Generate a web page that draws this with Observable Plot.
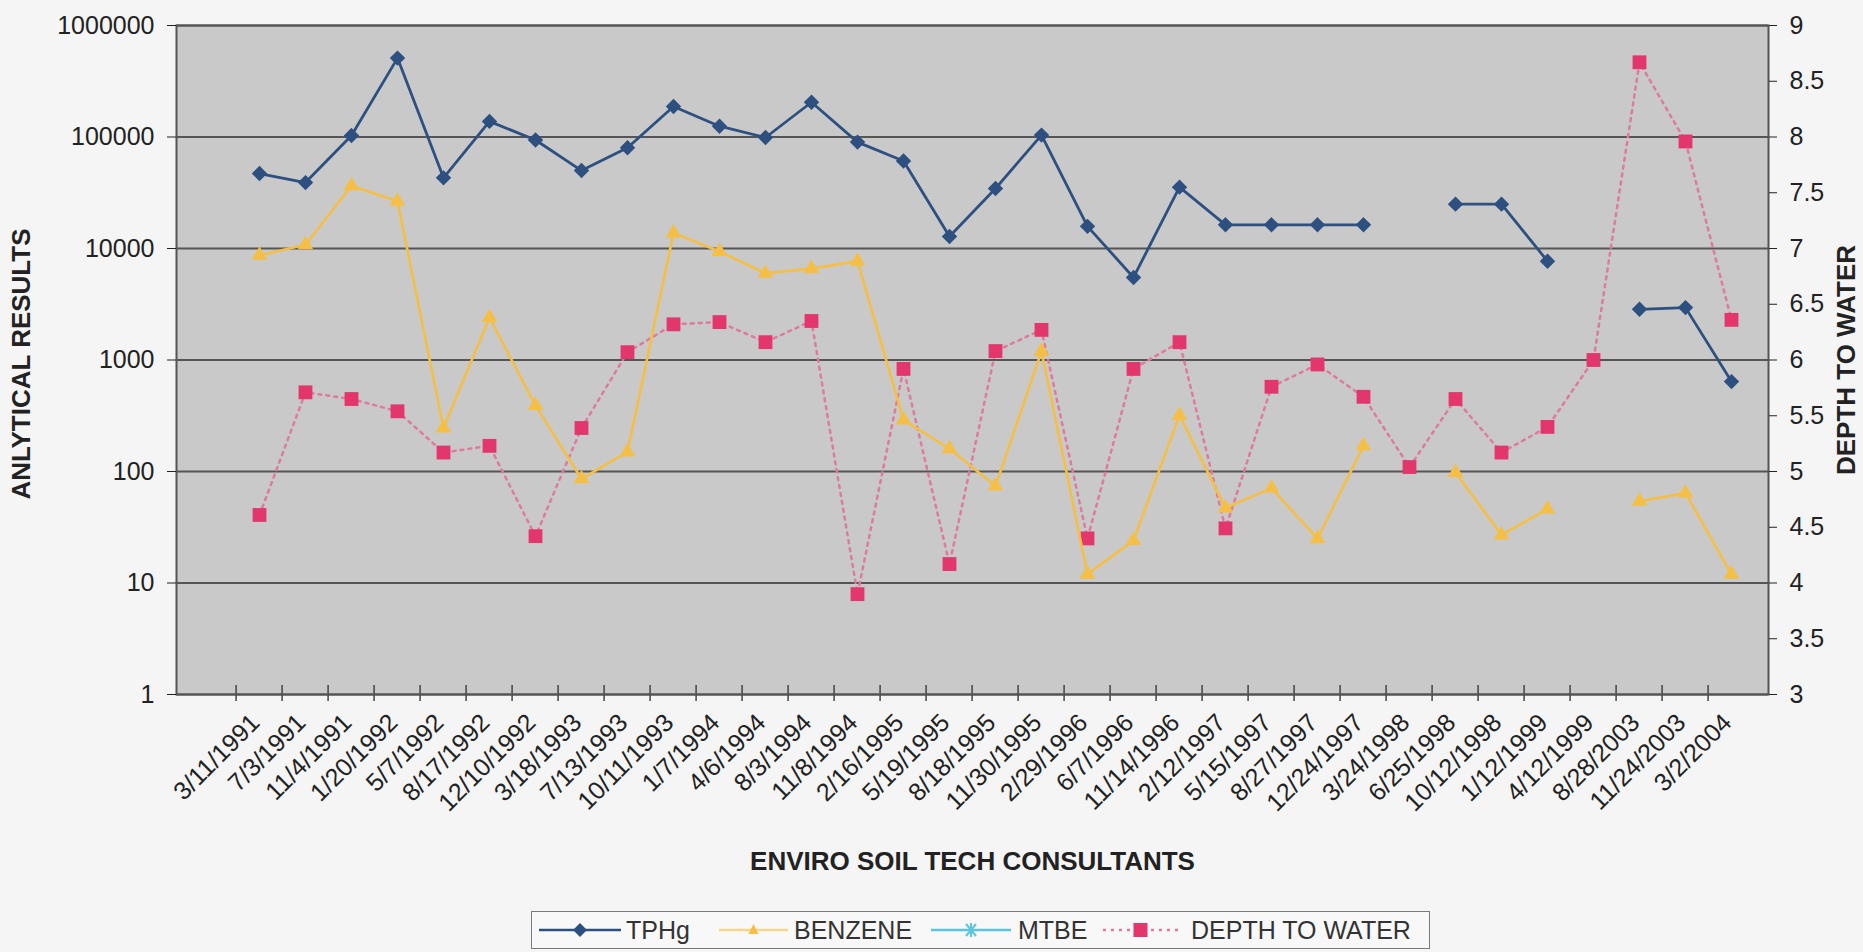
<!DOCTYPE html>
<html><head><meta charset="utf-8">
<script src="https://cdn.jsdelivr.net/npm/d3@7"></script>
<script src="https://cdn.jsdelivr.net/npm/@observablehq/plot@0.6"></script>
<style>
html,body{margin:0;padding:0;background:#f5f5f5;}
body{width:1863px;height:952px;position:relative;overflow:hidden;font-family:"Liberation Sans",Arial,sans-serif;}
#chart{position:absolute;left:0;top:0;}
#legend{position:absolute;left:531px;top:911px;width:897px;height:36px;border:1.5px solid #7a7a7a;background:#f8f8f8;}
.sw{position:absolute;top:0;}
.lt{position:absolute;top:0;height:36px;line-height:36px;font-size:25px;color:#333;white-space:nowrap;}
</style></head><body>
<div id="chart"></div>
<div id="legend"></div>
<script>
// ---- data ----
const dates = ["3/11/1991","7/3/1991","11/4/1991","1/20/1992","5/7/1992","8/17/1992","12/10/1992","3/18/1993","7/13/1993","10/11/1993","1/7/1994","4/6/1994","8/3/1994","11/8/1994","2/16/1995","5/19/1995","8/18/1995","11/30/1995","2/29/1996","6/7/1996","11/14/1996","2/12/1997","5/15/1997","8/27/1997","12/24/1997","3/24/1998","6/25/1998","10/12/1998","1/12/1999","4/12/1999","8/28/2003","11/24/2003","3/2/2004"];
const tphg = [47000,39000,103000,510000,43000,138000,94000,50000,80000,188000,125000,99000,205000,90000,61000,12800,34500,104000,15800,5500,35500,16300,16300,16300,16300,null,25000,25000,7700,null,2850,2950,640];
const benzene = [8700,10800,36500,26500,245,2400,390,86,150,13800,9400,6000,6600,7700,290,160,74,1200,12,24,320,47,71,25,170,null,98,27,46,null,54,64,12];
const mtbe = [null,null,null,null,null,null,null,null,null,null,null,null,null,null,null,null,null,null,null,null,null,null,null,null,null,null,null,null,null,null,null,null,null];
const depthToWater = [4.61,5.71,5.65,5.54,5.17,5.23,4.42,5.39,6.07,6.32,6.34,6.16,6.35,3.90,5.92,4.17,6.08,6.27,4.40,5.92,6.16,4.49,5.76,5.96,5.67,5.04,5.65,5.17,5.40,6.00,8.67,7.96,6.36];
const leftTicks = [1,10,100,1000,10000,100000,1000000];
const rightTicks = [3,3.5,4,4.5,5,5.5,6,6.5,7,7.5,8,8.5,9];
const seriesNames = ["TPHg","BENZENE","MTBE","DEPTH TO WATER"];
const seriesColors = ["#2e5080","#f5bf45","#5cc4df","#e2366d"];
const depthLineColor = "#de7a9c";
const xTitle = "ENVIRO SOIL TECH CONSULTANTS";
const yTitle = "ANLYTICAL RESULTS";
const y2Title = "DEPTH TO WATER";

// ---- layout ----
const W = 1863, H = 905, ML = 176, MR = 95, MT = 25, MB = 211;
const xDomain = ["", ...dates];
const step = (W - ML - MR) / xDomain.length;
const toLog = d => d == null ? null : Math.pow(10, d - 3);
const rows = dates.map((d, i) => ({date: d, tphg: tphg[i], benzene: benzene[i], mtbe: mtbe[i], depth: toLog(depthToWater[i])}));
const fmtRight = v => String(+(Math.log10(v) + 3).toFixed(1));

const chart = Plot.plot({
  width: W, height: H,
  marginLeft: ML, marginRight: MR, marginTop: MT, marginBottom: MB,
  style: {fontFamily: "'Liberation Sans', Arial, sans-serif", fontSize: "24px", color: "#222", background: "transparent", overflow: "visible"},
  x: {type: "point", domain: xDomain, padding: 0.5, align: 0.5},
  y: {type: "log", domain: [1, 1e6]},
  marks: [
    Plot.frame({fill: "#c9c9c9"}),
    Plot.gridY(leftTicks, {stroke: "#555", strokeOpacity: 1, strokeWidth: 1.8}),
    Plot.ruleX(dates, {x: d => d, y1: 1, y2: 1, insetTop: -9, insetBottom: -7, dx: -step / 2, stroke: "#444", strokeWidth: 1.5}),
    Plot.frame({stroke: "#555", strokeWidth: 2}),
    Plot.axisY(leftTicks, {anchor: "left", tickFormat: d3.format("d"), tickSize: 9, tickPadding: 13, label: null, fontSize: 25}),
    Plot.axisY(rightTicks.map(toLog), {anchor: "right", tickFormat: fmtRight, tickSize: 8, tickPadding: 13, label: null, fontSize: 25}),
    Plot.axisX(dates, {anchor: "bottom", tickRotate: -45, tickSize: 0, tickPadding: 24, dx: -4, label: null, fontSize: 25}),
    Plot.text([yTitle], {text: d => d, frameAnchor: "left", textAnchor: "middle", dx: -155, dy: 4, rotate: -90, fontWeight: "bold", fontSize: 26, fill: "#222"}),
    Plot.text([y2Title], {text: d => d, frameAnchor: "right", textAnchor: "middle", dx: 78, rotate: -90, fontWeight: "bold", fontSize: 26, fill: "#222"}),
    Plot.text([xTitle], {text: d => d, frameAnchor: "bottom", textAnchor: "middle", dy: 175, fontWeight: "bold", fontSize: 26, fill: "#222"}),
    Plot.lineY(rows, {x: "date", y: "depth", stroke: depthLineColor, strokeWidth: 2.5, strokeDasharray: "3,5"}),
    Plot.dot(rows, {x: "date", y: "depth", symbol: "square", r: 7.8, fill: seriesColors[3], stroke: "none"}),
    Plot.lineY(rows, {x: "date", y: "benzene", stroke: seriesColors[1], strokeWidth: 2.6}),
    Plot.dot(rows, {x: "date", y: "benzene", symbol: "triangle", r: 5.8, fill: seriesColors[1], stroke: "none"}),
    Plot.lineY(rows, {x: "date", y: "mtbe", stroke: seriesColors[2], strokeWidth: 2.5}),
    Plot.lineY(rows, {x: "date", y: "tphg", stroke: seriesColors[0], strokeWidth: 2.8}),
    Plot.dot(rows, {x: "date", y: "tphg", symbol: "diamond2", r: 6, fill: seriesColors[0], stroke: seriesColors[0], strokeWidth: 1.5})
  ]
});
document.getElementById("chart").appendChild(chart);

// ---- legend ----
const legend = document.getElementById("legend");
const swatchX = [7, 187, 399, 571];
const swatchW = [82, 69, 80, 75];
const textX = [94, 262, 486, 659];
function swatch(i) {
  const w = swatchW[i], c = seriesColors[i], m = w / 2;
  let s = `<svg class="sw" style="left:${swatchX[i]}px" width="${w}" height="36">`;
  if (i === 0) {
    s += `<line x1="0" y1="18" x2="${w}" y2="18" stroke="${c}" stroke-width="2.5"/>`;
    s += `<path d="M${m},11 L${m+7},18 L${m},25 L${m-7},18Z" fill="${c}"/>`;
  } else if (i === 1) {
    s += `<line x1="0" y1="18" x2="${w}" y2="18" stroke="#f7d58c" stroke-width="2.5"/>`;
    s += `<path d="M${m},12 L${m+5},22 L${m-5},22Z" fill="${c}"/>`;
  } else if (i === 2) {
    s += `<line x1="0" y1="18" x2="${w}" y2="18" stroke="${c}" stroke-width="2.5"/>`;
    s += `<path d="M${m-5},12 L${m+5},24 M${m+5},12 L${m-5},24 M${m},11 L${m},25" stroke="${c}" stroke-width="2"/>`;
  } else {
    s += `<line x1="0" y1="18" x2="${w}" y2="18" stroke="${depthLineColor}" stroke-width="2.4" stroke-dasharray="3,5"/>`;
    s += `<rect x="${m-7}" y="11" width="14" height="14" fill="${c}"/>`;
  }
  return s + `</svg>`;
}
seriesNames.forEach((n, i) => {
  legend.insertAdjacentHTML("beforeend", swatch(i) + `<div class="lt" style="left:${textX[i]}px">${n}</div>`);
});
</script>
</body></html>
